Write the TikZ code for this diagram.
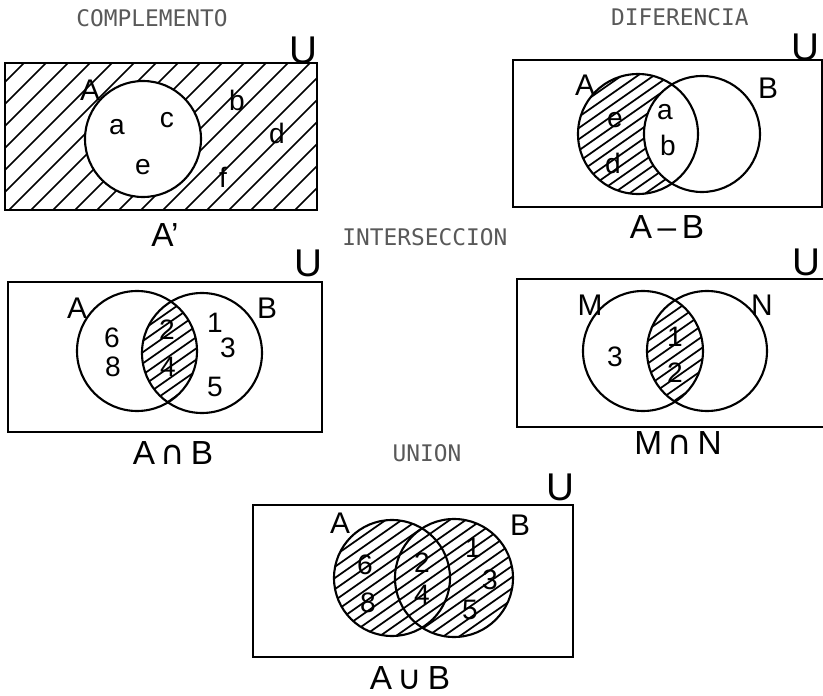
\documentclass[tikz,border=0pt]{standalone}
\usepackage{fontspec}
\setsansfont{Liberation Sans}
\newfontfamily\titlefont{DejaVu Sans Mono}
\newfontfamily\opfont{DejaVu Sans}
\usepackage{tikz}

\begin{document}
\begin{tikzpicture}[
    x=0.02cm, y=-0.02cm,
    box/.style={line width=1.4pt},
    set/.style={line width=1.2pt},
    hatch/.style={line width=1pt},
    title/.style={font=\fontsize{13}{15}\selectfont\titlefont, text=black!65},
    big/.style={font=\fontsize{17}{19}\selectfont\sffamily},
    elem/.style={font=\fontsize{16}{18}\selectfont\sffamily},
    uni/.style={font=\fontsize{22}{24}\selectfont\sffamily},
    res/.style={font=\fontsize{19}{21}\selectfont\sffamily}
]
\clip (0,0) rectangle (823,696);

% Titles
\node[title] (tcomp) at (152,18) {COMPLEMENTO};
\node[title] (tdif) at (680,17) {DIFERENCIA};
\node[title] (tint) at (425,237) {INTERSECCION};
\node[title] (tuni) at (427,453) {UNION};

% Complemento
\begin{scope}[even odd rule]
  \clip (5,63) rectangle (317,210) (143,139) circle (58);
  \foreach \i in {0,...,22}
    \draw[hatch] (\i*22-150,215) -- ++(170,-170);
\end{scope}
\draw[box] (5,63) rectangle (317,210);
\draw[set] (143,139) circle (58);
\node[uni] (compU) at (303,50) {U};
\node[big] (compA) at (90,90) {A};
\node[elem] (comp-a) at (117,127) {a};
\node[elem] (comp-c) at (167,120) {c};
\node[elem] (comp-e) at (143,167) {e};
\node[elem] (comp-b) at (237,100) {b};
\node[elem] (comp-d) at (277,133) {d};
\node[elem] (comp-f) at (223,177) {f};
\node[res] (compR) at (165,235) {A'};

% Diferencia
\begin{scope}[even odd rule]
  \clip (638,134) circle (60);
  \clip (500,0) rectangle (823,250) (702,134) circle (58);
  \foreach \i in {0,...,19}
    \draw[hatch] (\i*16+376,214) -- ++(200,-140);
\end{scope}
\draw[box] (513,60) rectangle (822,207);
\draw[set] (638,134) circle (60);
\draw[set] (702,134) circle (58);
\node[uni] (difU) at (805,47) {U};
\node[big] (difA) at (585,85) {A};
\node[big] (difB) at (768,88) {B};
\node[elem] (dif-e) at (615,120) {e};
\node[elem] (dif-d) at (613,163) {d};
\node[elem] (dif-a) at (665,112) {a};
\node[elem] (dif-b) at (668,145) {b};
\node[res] (difR) at (667,227) {A\,--\,B};

% Interseccion A y B
\begin{scope}
  \clip (137,351) circle (60);
  \clip (202,353) circle (60);
  \foreach \i in {0,...,15}
    \draw[hatch] (\i*16-50,420) -- ++(200,-140);
\end{scope}
\draw[box] (8,282) rectangle (322,432);
\draw[set] (137,351) circle (60);
\draw[set] (202,353) circle (60);
\node[uni] (abU) at (308,263) {U};
\node[big] (abA) at (77,308) {A};
\node[big] (abB) at (267,308) {B};
\node[elem] (ab-6) at (112,338) {6};
\node[elem] (ab-8) at (113,367) {8};
\node[elem] (ab-2) at (167,330) {2};
\node[elem] (ab-4) at (168,367) {4};
\node[elem] (ab-1) at (215,323) {1};
\node[elem] (ab-3) at (228,348) {3};
\node[elem] (ab-5) at (215,387) {5};
\node[res] (abR) at (173,453) {A\,{\opfont ∩}\,B};

% Interseccion M y N
\begin{scope}
  \clip (643,351) circle (60);
  \clip (707,351) circle (60);
  \foreach \i in {0,...,15}
    \draw[hatch] (\i*16+455,420) -- ++(200,-140);
\end{scope}
\draw[box] (517,279) rectangle (830,427);
\draw[set] (643,351) circle (60);
\draw[set] (707,351) circle (60);
\node[uni] (mnU) at (806,262) {U};
\node[big] (mnM) at (590,305) {M};
\node[big] (mnN) at (762,305) {N};
\node[elem] (mn-3) at (615,357) {3};
\node[elem] (mn-1) at (675,337) {1};
\node[elem] (mn-2) at (675,373) {2};
\node[res] (mnR) at (678,443) {M\,{\opfont ∩}\,N};

% Union
\begin{scope}
  \clip (392,578) circle (58) (454,578) circle (59);
  \foreach \i in {0,...,23}
    \draw[hatch] (\i*16+136,650) -- ++(200,-140);
\end{scope}
\draw[box] (253,505) rectangle (573,657);
\draw[set] (392,578) circle (58);
\draw[set] (454,578) circle (59);
\node[uni] (unU) at (560,487) {U};
\node[big] (unA) at (340,523) {A};
\node[big] (unB) at (520,525) {B};
\node[elem] (un-6) at (365,565) {6};
\node[elem] (un-8) at (368,603) {8};
\node[elem] (un-2) at (422,563) {2};
\node[elem] (un-4) at (422,595) {4};
\node[elem] (un-1) at (473,548) {1};
\node[elem] (un-3) at (490,580) {3};
\node[elem] (un-5) at (470,610) {5};
\node[res] (unR) at (410,678) {A\,{\opfont ∪}\,B};

\end{tikzpicture}
\end{document}
